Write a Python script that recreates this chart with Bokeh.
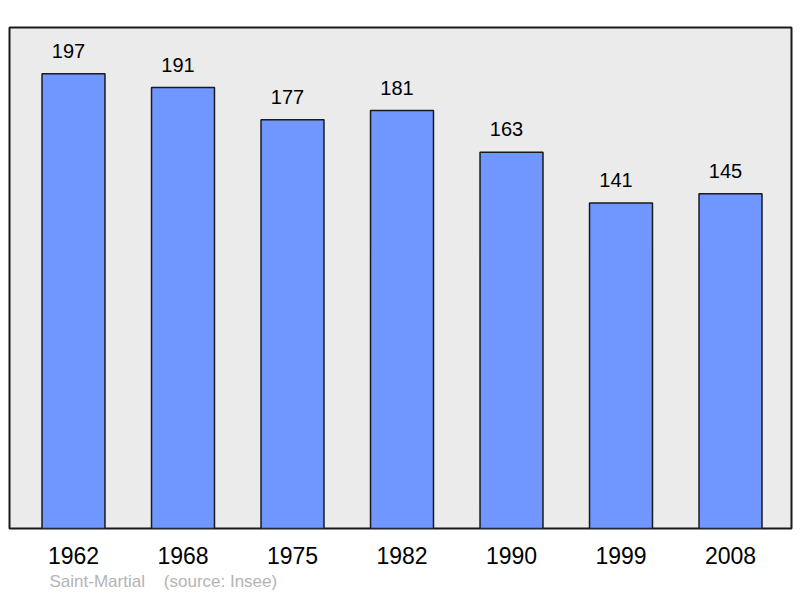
from bokeh.plotting import figure
from bokeh.models import ColumnDataSource, FixedTicker, Range1d, Title
from bokeh.core.properties import value
from bokeh.embed import file_html
from bokeh.resources import INLINE

years = ["1962", "1968", "1975", "1982", "1990", "1999", "2008"]
population = [197, 191, 177, 181, 163, 141, 145]
place = "Saint-Martial"
source_note = "(source: Insee)"

idx = list(range(len(years)))
src = ColumnDataSource(dict(x=idx, top=population, lab=[str(v) for v in population]))

FONT = "Liberation Sans"

p = figure(width=795, height=596, output_backend="svg", toolbar_location=None,
           x_range=Range1d(-0.5845, 6.557), y_range=Range1d(0, 217),
           min_border_left=9, min_border_right=4, min_border_top=27, min_border_bottom=68)
p.background_fill_color = "#ebebeb"
p.border_fill_color = "white"
p.outline_line_color = "#1a1a1a"
p.outline_line_width = 2
p.grid.visible = False
p.yaxis.visible = False

p.vbar(x="x", top="top", bottom=0, width=0.575, source=src,
       fill_color="#7096ff", line_color="#1a1a1a", line_width=1.5)
p.text(x="x", y="top", text="lab", source=src, y_offset=-16, x_offset=-5,
       text_align="center", text_baseline="bottom",
       text_font=value(FONT), text_font_size="20px", text_color="black")

ax = p.xaxis[0]
ax.ticker = FixedTicker(ticks=idx)
ax.major_label_overrides = {i: y for i, y in enumerate(years)}
ax.axis_line_color = None
ax.major_tick_line_color = None
ax.minor_tick_line_color = None
ax.major_tick_out = 0
ax.major_tick_in = 0
ax.major_label_standoff = 18
ax.major_label_text_font = FONT
ax.major_label_text_font_size = "23px"
ax.major_label_text_color = "black"

spacer = Title(text="\u00a0", text_font_size="1px", standoff=0, text_color="white")
p.add_layout(spacer, "below")
t = Title(text=place + "\u00a0\u00a0\u00a0\u00a0" + source_note, align="left", offset=40,
          text_font=FONT, text_font_size="17px", text_font_style="normal",
          text_color="#b4b4b4", standoff=0)
p.add_layout(t, "below")

open("out.html", "w").write(file_html(p, INLINE))
